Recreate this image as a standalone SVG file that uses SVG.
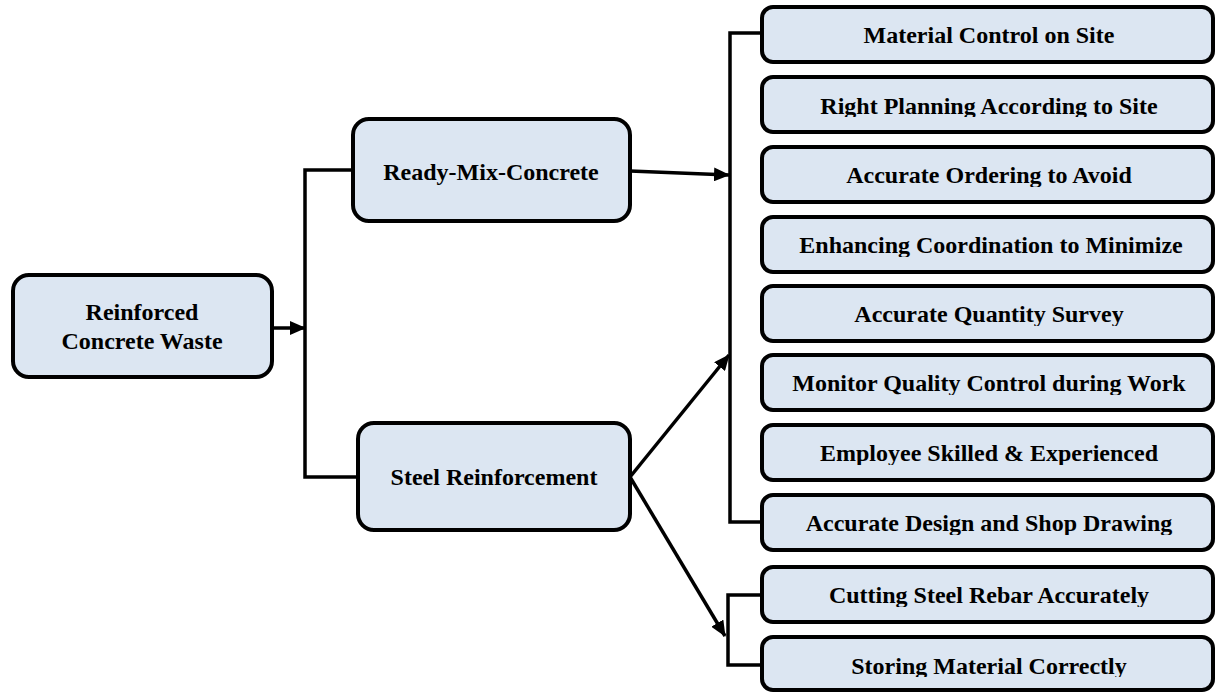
<svg xmlns="http://www.w3.org/2000/svg" width="1216" height="692" viewBox="0 0 1216 692">
<style>
.box{fill:#dce6f2;stroke:#000;stroke-width:4}
.t{font-family:"Liberation Serif","Times New Roman",serif;font-weight:bold;font-size:24px;fill:#000;text-anchor:middle}
.c{fill:none;stroke:#000;stroke-width:3.5}
</style>
<defs>
<marker id="ah" markerUnits="userSpaceOnUse" markerWidth="16" markerHeight="14" refX="15" refY="7" orient="auto">
<path d="M0,0 L16,7 L0,14 z" fill="#000"/>
</marker>
<clipPath id="clipR" clipPathUnits="userSpaceOnUse"><rect x="0" y="0" width="451" height="40"/></clipPath>
</defs>
<rect width="1216" height="692" fill="#fff"/>
<g id="connectors">
<path class="c" d="M272,328 H305" marker-end="url(#ah)"/>
<path class="c" d="M353,170 H305 V477 H358"/>
<path class="c" d="M630,171 L729,175" marker-end="url(#ah)"/>
<path class="c" d="M630,477 L729,355" marker-end="url(#ah)"/>
<path class="c" d="M630,477 L725,636" marker-end="url(#ah)"/>
<path class="c" d="M762,33 H730 V522 H762"/>
<path class="c" d="M762,595 H728 V665 H762"/>
</g>
<g id="n-root">
<rect class="box" x="13" y="275" width="259" height="102" rx="16"/>
<text class="t" x="142" y="320">Reinforced</text>
<text class="t" x="142" y="349">Concrete Waste</text>
</g>
<g id="n-rmc">
<rect class="box" x="353" y="119" width="277" height="102" rx="16"/>
<text class="t" x="491" y="180">Ready-Mix-Concrete</text>
</g>
<g id="n-steel">
<rect class="box" x="358" y="423" width="272" height="107" rx="16"/>
<text class="t" x="494" y="485">Steel Reinforcement</text>
</g>
<g id="n-r1" transform="translate(762,7)">
<rect class="box" width="451" height="55" rx="11"/>
<text class="t" x="227" y="36" clip-path="url(#clipR)">Material Control on Site</text>
</g>
<g id="n-r2" transform="translate(762,77)">
<rect class="box" width="451" height="55" rx="11"/>
<text class="t" x="227" y="37" clip-path="url(#clipR)">Right Planning According to Site</text>
</g>
<g id="n-r3" transform="translate(762,147)">
<rect class="box" width="451" height="55" rx="11"/>
<text class="t" x="227" y="36" clip-path="url(#clipR)">Accurate Ordering to Avoid</text>
</g>
<g id="n-r4" transform="translate(762,217)">
<rect class="box" width="451" height="55" rx="11"/>
<text class="t" x="229" y="36" clip-path="url(#clipR)">Enhancing Coordination to Minimize</text>
</g>
<g id="n-r5" transform="translate(762,286)">
<rect class="box" width="451" height="55" rx="11"/>
<text class="t" x="227" y="36" clip-path="url(#clipR)">Accurate Quantity Survey</text>
</g>
<g id="n-r6" transform="translate(762,355)">
<rect class="box" width="451" height="55" rx="11"/>
<text class="t" x="227" y="36" clip-path="url(#clipR)">Monitor Quality Control during Work</text>
</g>
<g id="n-r7" transform="translate(762,425)">
<rect class="box" width="451" height="55" rx="11"/>
<text class="t" x="227" y="36" clip-path="url(#clipR)">Employee Skilled &amp; Experienced</text>
</g>
<g id="n-r8" transform="translate(762,495)">
<rect class="box" width="451" height="55" rx="11"/>
<text class="t" x="227" y="36" clip-path="url(#clipR)">Accurate Design and Shop Drawing</text>
</g>
<g id="n-r9" transform="translate(762,567)">
<rect class="box" width="451" height="55" rx="11"/>
<text class="t" x="227" y="36" clip-path="url(#clipR)">Cutting Steel Rebar Accurately</text>
</g>
<g id="n-r10" transform="translate(762,637)">
<rect class="box" width="451" height="53" rx="11"/>
<text class="t" x="227" y="37" clip-path="url(#clipR)">Storing Material Correctly</text>
</g>
</svg>
